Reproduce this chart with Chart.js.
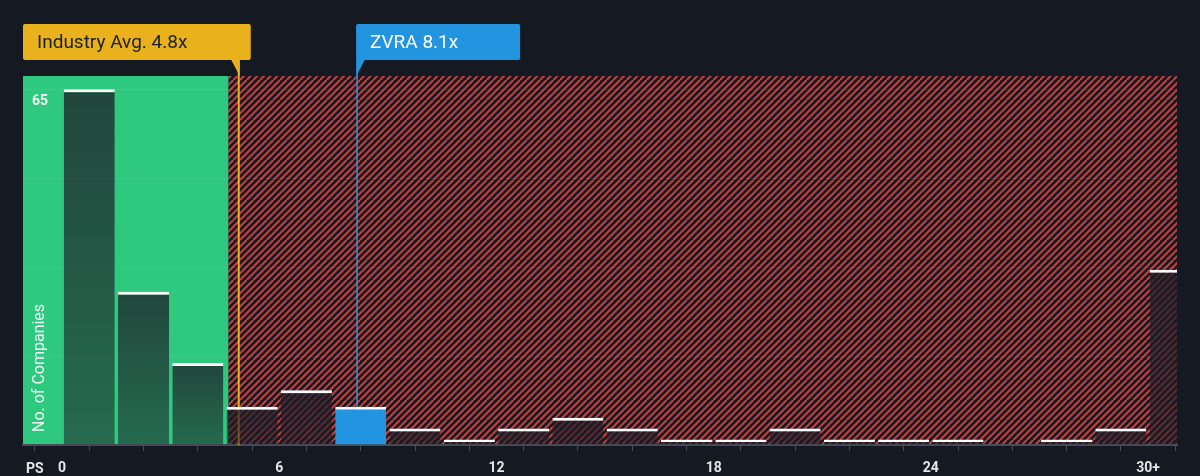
<!DOCTYPE html>
<html><head><meta charset="utf-8">
<script src="https://cdn.jsdelivr.net/npm/chart.js@4.4.0/dist/chart.umd.min.js"></script>
<style>html,body{margin:0;padding:0;background:#151a22;}#wrap{width:1200px;height:476px;position:relative}</style>
</head><body><div id="wrap"><canvas id="c" width="1200" height="476"></canvas></div>
<script>
// ---- data ----
const binStarts = [0,1.5,3,4.5,6,7.5,9,10.5,12,13.5,15,16.5,18,19.5,21,22.5,24,25.5,27,28.5,30];
const binWidth = 1.5;
const companyCounts = [65,28,15,7,10,7,3,1,3,5,3,1,1,3,1,1,1,0,1,3,32];
const tickValues = [0,6,12,18,24,30];
const tickTexts = ['0','6','12','18','24','30+'];
const industryAvg = 4.88;
const industryLabel = 'Industry Avg. 4.8x';
const companyValue = 8.15;
const companyLabel = 'ZVRA 8.1x';
const highlightBin = 5;
const yMaxLabel = 65;
const greenEnd = 4.6;
const xMin = -1.08, xMax = 30.8, yMax = 67.4;

const BG = '#151a22';
const GREEN = '#2ec97f';
const ORANGE = '#e9b11b';
const BLUE = '#2394df';

function makeHatch(){
  const s = 20, c = document.createElement('canvas');
  c.width = s; c.height = s;
  const g = c.getContext('2d');
  g.fillStyle = BG; g.fillRect(0,0,s,s);
  g.strokeStyle = '#c8403f'; g.lineWidth = 2;
  for (let k = -s; k <= 3*s; k += s/3) {
    g.beginPath(); g.moveTo(k, 0); g.lineTo(k - s, s); g.stroke();
  }
  return c;
}

const bgPlugin = {
  id: 'bg',
  beforeDraw(chart){
    const {ctx, chartArea:a, scales:{x}} = chart;
    ctx.save();
    ctx.fillStyle = BG; ctx.fillRect(0,0,chart.width,chart.height);
    const gx = x.getPixelForValue(greenEnd);
    ctx.fillStyle = GREEN; ctx.fillRect(a.left, a.top, gx - a.left, a.bottom - a.top);
    ctx.fillStyle = ctx.createPattern(makeHatch(), 'repeat');
    ctx.fillRect(gx, a.top, a.right - gx, a.bottom - a.top);
    ctx.restore();
  },
  beforeDatasetsDraw(chart){
    const {ctx, chartArea:a, scales:{x,y}} = chart;
    ctx.save();
    const ox = x.getPixelForValue(industryAvg);
    ctx.strokeStyle = ORANGE; ctx.lineWidth = 2;
    ctx.beginPath(); ctx.moveTo(ox, 60); ctx.lineTo(ox, a.bottom); ctx.stroke();
    const bx = x.getPixelForValue(companyValue);
    ctx.strokeStyle = BLUE; ctx.lineWidth = 1.5;
    ctx.beginPath(); ctx.moveTo(bx, 60); ctx.lineTo(bx, y.getPixelForValue(companyCounts[highlightBin])); ctx.stroke();
    ctx.restore();
  },
  afterDraw(chart){
    const {ctx, chartArea:a, scales:{x,y}} = chart;
    ctx.save();
    // industry label
    const ox = x.getPixelForValue(industryAvg);
    ctx.fillStyle = ORANGE;
    ctx.beginPath(); ctx.roundRect(23, 24, ox + 12 - 23, 36, 2); ctx.fill();
    ctx.beginPath(); ctx.moveTo(ox - 8, 59); ctx.lineTo(ox + 1, 59); ctx.lineTo(ox + 1, 76); ctx.closePath(); ctx.fill();
    ctx.fillStyle = '#1b1f27'; ctx.font = '19px Roboto'; ctx.textBaseline = 'middle'; ctx.textAlign = 'left';
    ctx.fillText(industryLabel, 37, 43);
    // company label
    const bx = x.getPixelForValue(companyValue);
    ctx.fillStyle = BLUE;
    ctx.beginPath(); ctx.roundRect(bx - 1, 24, 164, 36, 2); ctx.fill();
    ctx.beginPath(); ctx.moveTo(bx - 0.75, 59); ctx.lineTo(bx + 8, 59); ctx.lineTo(bx - 0.75, 76); ctx.closePath(); ctx.fill();
    ctx.fillStyle = '#ffffff';
    ctx.fillText(companyLabel, bx + 13, 43);
    // max label
    ctx.font = 'bold 14px Roboto'; ctx.fillStyle = '#f2f2f2';
    ctx.fillText(String(yMaxLabel), 32, y.getPixelForValue(yMaxLabel) + 12);
    // PS
    ctx.font = 'bold 14px Roboto'; ctx.fillStyle = '#e6e6e6';
    ctx.fillText('PS', 26, 469);
    // y title
    ctx.translate(40, a.bottom - 13);
    ctx.rotate(-Math.PI/2);
    ctx.font = '16px Roboto'; ctx.fillStyle = '#f4f4f4'; ctx.textAlign = 'left';
    ctx.fillText('No. of Companies', 0, 0);
    ctx.restore();
  }
};

function barFill(ctx){
  const i = ctx.dataIndex;
  if (i === highlightBin) return BLUE;
  const chart = ctx.chart;
  if (!chart.chartArea || !chart.scales.y) return 'rgba(29,29,39,0.7)';
  const y = chart.scales.y;
  const top = y.getPixelForValue(companyCounts[i]);
  const bot = y.getPixelForValue(0);
  if (bot - top < 1) return 'rgba(29,29,39,0.7)';
  const g = chart.ctx.createLinearGradient(0, top, 0, bot);
  g.addColorStop(0, 'rgba(29,29,39,0.76)');
  g.addColorStop(1, 'rgba(29,29,39,0.55)');
  return g;
}

new Chart(document.getElementById('c'), {
  type: 'bar',
  data: {
    datasets: [{
      data: binStarts.map((s, i) => ({x: s + binWidth/2, y: companyCounts[i]})),
      backgroundColor: barFill,
      borderColor: '#ffffff',
      borderWidth: {top: 3, left: 0, right: 0, bottom: 0},
      borderSkipped: false,
      barPercentage: 0.94,
      categoryPercentage: 1.0
    }]
  },
  options: {
    responsive: false, animation: false, devicePixelRatio: 1,
    layout: {padding: {left: 23, right: 23, top: 76, bottom: 0}},
    plugins: {legend: {display: false}, tooltip: {enabled: false}},
    scales: {
      x: {
        type: 'linear', min: xMin, max: xMax, offset: false,
        afterBuildTicks(scale){ scale.ticks = binStarts.map(v => ({value: v})); },
        afterFit(scale){ scale.height = 31; },
        ticks: {
          autoSkip: false, maxRotation: 0, padding: 9,
          color: '#e6e6e6', font: {family: 'Roboto', size: 14, weight: 'bold'},
          callback(v){ const k = tickValues.indexOf(v); return k >= 0 ? tickTexts[k] : ''; }
        },
        grid: {drawOnChartArea: false, drawTicks: true, tickLength: 6, color: '#474c55', lineWidth: 1},
        border: {display: true, color: '#474c55', width: 2}
      },
      y: {
        min: 0, max: yMax,
        afterBuildTicks(scale){ scale.ticks = [0, yMaxLabel/4, yMaxLabel/2, yMaxLabel*3/4, yMaxLabel].map(v => ({value: v})); },
        ticks: {display: false},
        grid: {color: 'rgba(255,255,255,0.07)', drawTicks: false, lineWidth: 1},
        border: {display: false}
      }
    }
  },
  plugins: [bgPlugin]
});
</script></body></html>
